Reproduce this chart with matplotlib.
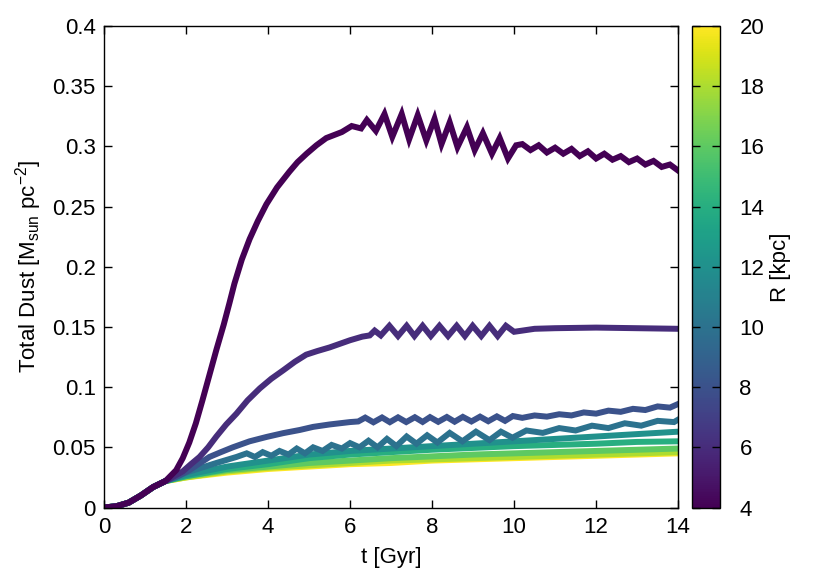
import matplotlib
matplotlib.use("Agg")
import matplotlib.pyplot as plt
from matplotlib import cm, colors
from matplotlib.ticker import FuncFormatter

# Radii of the curves (colour axis)
radii = [4, 6, 8, 10, 12, 14, 16, 18, 20]

# Time [Gyr] and total dust [Msun pc^-2], one pair per radius
t_r4 = [0, 0.3, 0.6, 0.9, 1.2, 1.5, 1.76, 1.92, 2.08, 2.24, 2.4, 2.57, 2.74, 2.92, 3.06, 3.18, 3.36, 3.55,
        3.75, 3.96, 4.22, 4.52, 4.72, 4.94, 5.18, 5.42,
        5.8, 6.04, 6.27, 6.41, 6.63, 6.84, 7.03, 7.26, 7.44, 7.65, 7.86, 8.06, 8.23, 8.43, 8.62, 8.85,
        9.04, 9.24, 9.46, 9.65, 9.85, 10.05, 10.2, 10.4, 10.6, 10.8, 11.0, 11.2, 11.4, 11.6, 11.8, 12.0,
        12.2, 12.4, 12.6, 12.8, 13.0, 13.2, 13.4, 13.6, 13.8, 14.0]
dust_r4 = [0, 0.001, 0.004, 0.010, 0.017, 0.022, 0.031, 0.041, 0.054, 0.070, 0.089, 0.110, 0.131, 0.152,
           0.170, 0.186, 0.206, 0.223, 0.238, 0.252, 0.266, 0.279, 0.287, 0.294, 0.301, 0.307,
           0.312, 0.317, 0.315, 0.322, 0.313, 0.327, 0.308, 0.327, 0.306, 0.326,
           0.305, 0.323, 0.302, 0.320, 0.2995, 0.316, 0.297, 0.311, 0.294, 0.307, 0.290, 0.301, 0.302,
           0.297, 0.301, 0.295, 0.299, 0.294, 0.298, 0.292, 0.296, 0.290, 0.294, 0.289, 0.292, 0.287,
           0.290, 0.285, 0.288, 0.283, 0.285, 0.280]

t_r6 = [0, 0.3, 0.6, 0.9, 1.2, 1.5, 1.92, 2.12, 2.33, 2.54, 2.74, 2.98, 3.23, 3.5, 3.8, 4.08, 4.37, 4.65,
        4.93, 5.2, 5.5, 6.0, 6.3, 6.48, 6.6,
        6.75, 6.96, 7.17, 7.38, 7.57, 7.77, 7.97, 8.18, 8.39, 8.6, 8.8, 8.99, 9.2, 9.4, 9.6, 9.8, 10.0,
        10.5, 11.0, 12.0, 13.0, 14.0]
dust_r6 = [0, 0.001, 0.004, 0.010, 0.017, 0.022, 0.030, 0.036, 0.042, 0.050, 0.059, 0.069, 0.078, 0.089,
           0.099, 0.107, 0.114, 0.121, 0.127, 0.130, 0.133, 0.139, 0.142, 0.143, 0.147, 0.143, 0.151,
           0.1425, 0.151, 0.1425, 0.151, 0.1425, 0.151, 0.1425, 0.151, 0.1425, 0.151, 0.1425, 0.151,
           0.1425, 0.151, 0.146, 0.1485, 0.149, 0.1495, 0.149, 0.1485]

t_r8 = [0, 0.3, 0.6, 0.9, 1.2, 1.5, 1.8, 2.08, 2.3, 2.57, 2.85, 3.14, 3.55, 3.96, 4.37, 4.77, 5.1, 5.5,
        6.0, 6.2, 6.37, 6.57, 6.78,
        6.97, 7.17, 7.37, 7.58, 7.77, 7.95, 8.15, 8.36, 8.55, 8.75, 8.96, 9.17, 9.37, 9.58, 9.78, 9.97,
        10.2, 10.5, 10.8, 11.1, 11.4, 11.7, 12.0, 12.3, 12.6, 12.9, 13.2, 13.5, 13.8, 14.0]
dust_r8 = [0, 0.001, 0.004, 0.010, 0.017, 0.022, 0.026, 0.031, 0.036, 0.042, 0.046, 0.050, 0.055, 0.0586,
           0.0618, 0.0644, 0.067, 0.069, 0.071,
           0.0715, 0.0747, 0.0708, 0.0748, 0.0709, 0.0749, 0.0710, 0.0750, 0.0711, 0.0751, 0.0712, 0.0752,
           0.0713, 0.0753, 0.0715, 0.0755, 0.0717, 0.0757, 0.0720, 0.0760, 0.0745, 0.0765, 0.0755, 0.0775,
           0.0765, 0.0790, 0.0780, 0.0805, 0.0795, 0.0820, 0.0810, 0.0840, 0.0830, 0.0860]

t_r10 = [0, 0.3, 0.6, 0.9, 1.2, 1.5, 2.0, 2.74, 3.23, 3.48, 3.68, 3.87, 4.08, 4.28, 4.5, 4.7, 4.9, 5.1,
         5.33, 5.55, 5.8, 6.0, 6.23, 6.45, 6.67, 6.9, 7.13, 7.38, 7.62, 7.88, 8.13, 8.43, 8.74, 9.07, 9.4,
         9.68, 9.96, 10.3, 10.7, 11.1, 11.5, 11.9, 12.3, 12.7, 13.1, 13.5, 13.9, 14.0]
dust_r10 = [0, 0.001, 0.004, 0.010, 0.017, 0.022, 0.029, 0.037, 0.042, 0.045, 0.042, 0.046, 0.043, 0.047,
            0.044, 0.049, 0.045, 0.050, 0.047, 0.052, 0.049, 0.0535, 0.050, 0.0555, 0.050, 0.057, 0.051,
            0.059, 0.053, 0.060, 0.054, 0.062, 0.055, 0.063, 0.056, 0.063, 0.058, 0.064, 0.062, 0.066,
            0.064, 0.068, 0.066, 0.070, 0.068, 0.072, 0.071, 0.073]

t_outer = [0, 0.3, 0.6, 0.9, 1.2, 1.5, 2, 3, 4, 5, 6, 7, 8, 9, 10, 11, 12, 13, 14]
dust_r12 = [0, 0.001, 0.004, 0.010, 0.017, 0.022, 0.027, 0.034, 0.039, 0.044, 0.047, 0.049, 0.051, 0.053,
            0.055, 0.057, 0.059, 0.061, 0.063]
dust_r14 = [0, 0.001, 0.004, 0.010, 0.017, 0.022, 0.026, 0.032, 0.036, 0.041, 0.044, 0.046, 0.048, 0.0495,
            0.051, 0.052, 0.053, 0.0545, 0.055]
dust_r16 = [0, 0.001, 0.004, 0.010, 0.017, 0.022, 0.026, 0.031, 0.034, 0.037, 0.039, 0.041, 0.0425, 0.044,
            0.045, 0.046, 0.047, 0.048, 0.049]
dust_r18 = [0, 0.001, 0.004, 0.010, 0.017, 0.022, 0.025, 0.030, 0.033, 0.035, 0.037, 0.039, 0.040, 0.041,
            0.042, 0.043, 0.044, 0.045, 0.046]
dust_r20 = [0, 0.001, 0.004, 0.010, 0.017, 0.022, 0.025, 0.029, 0.032, 0.034, 0.036, 0.037, 0.039, 0.040,
            0.041, 0.042, 0.043, 0.044, 0.045]

curves = [(t_r4, dust_r4), (t_r6, dust_r6), (t_r8, dust_r8), (t_r10, dust_r10), (t_outer, dust_r12),
          (t_outer, dust_r14), (t_outer, dust_r16), (t_outer, dust_r18), (t_outer, dust_r20)]

x_ticks = [0, 2, 4, 6, 8, 10, 12, 14]
y_ticks = [0, 0.05, 0.1, 0.15, 0.2, 0.25, 0.3, 0.35, 0.4]
cb_ticks = [4, 6, 8, 10, 12, 14, 16, 18, 20]

plt.rcParams['font.family'] = ['Liberation Sans', 'DejaVu Sans']
plt.rcParams['font.size'] = 16
plt.rcParams['mathtext.fontset'] = 'custom'
plt.rcParams['mathtext.rm'] = 'Liberation Sans'
plt.rcParams['mathtext.it'] = 'Liberation Sans'

fig = plt.figure(figsize=(8.3, 5.81), dpi=100)
ax = fig.add_axes([0.1253, 0.1265, 0.6917, 0.8285])

norm = colors.Normalize(vmin=4, vmax=20)
cmap = plt.get_cmap('viridis')

# outer radii first, so the inner ones sit on top
for r, (t, d) in reversed(list(zip(radii, curves))):
    ax.plot(t, d, color=cmap(norm(r)), lw=4.3, solid_joinstyle='miter')

ax.set_xlim(0, 14)
ax.set_ylim(0, 0.4)
ax.set_xticks(x_ticks)
ax.set_yticks(y_ticks)
ax.yaxis.set_major_formatter(FuncFormatter(lambda v, p: '%g' % v))
ax.tick_params(direction='in', top=True, right=True, length=5.5, width=1)
ax.tick_params(axis='y', pad=6)
ax.tick_params(axis='x', pad=7)
for s in ax.spines.values():
    s.set_linewidth(1)
ax.set_xlabel('t [Gyr]', labelpad=6)
ax.set_ylabel(r'Total Dust [M$_{\rm sun}$ pc$^{-2}$]', labelpad=6)

# colour bar on the right
cax = fig.add_axes([0.8337, 0.1265, 0.0337, 0.8285])
sm = cm.ScalarMappable(norm=norm, cmap=cmap)
cb = fig.colorbar(sm, cax=cax, ticks=cb_ticks)
cb.outline.set_linewidth(1)
cax.tick_params(direction='in', left=True, right=True, length=5.5, width=1, pad=14)
cb.set_label('R [kpc]', labelpad=4)

plt.savefig('out.png', dpi=100)
